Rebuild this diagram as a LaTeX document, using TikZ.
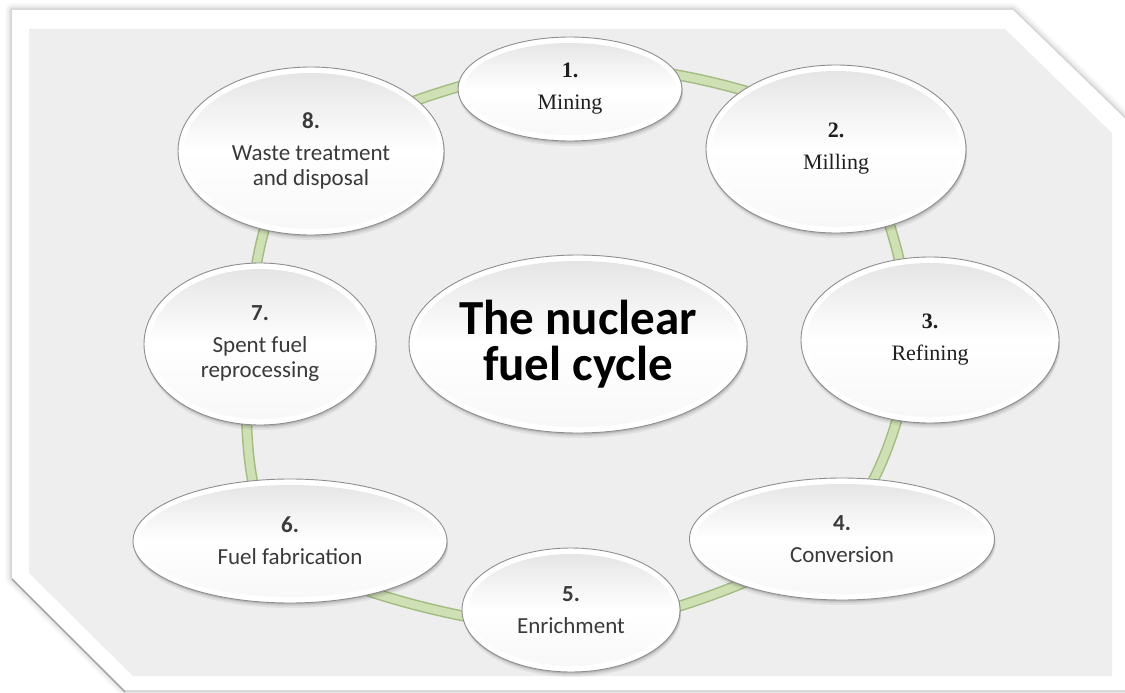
\documentclass[tikz,border=0pt]{standalone}
\usepackage{fontspec}
\setmainfont{Liberation Serif}
\newfontfamily\calib{Carlito}
\usetikzlibrary{shapes.geometric,calc}
\pgfdeclarelayer{background}
\pgfsetlayers{background,main}
\definecolor{panel}{HTML}{EEEEEE}
\definecolor{ringfill}{HTML}{CFE0B4}
\definecolor{ringedge}{HTML}{A3BC82}
\definecolor{rim}{HTML}{8E8E8E}
\definecolor{txt}{HTML}{3A3A3A}
\tikzset{
  stage/.style={ellipse, draw=rim, line width=0.9pt, fill=white, inner sep=0pt, align=center,
    preaction={fill=black, opacity=0.06, transform canvas={shift={(1pt,-5pt)}}},
    preaction={fill=black, opacity=0.08, transform canvas={shift={(1pt,-3pt)}}},
    preaction={fill=black, opacity=0.10, transform canvas={shift={(0.5pt,-1.5pt)}}},
    path picture={\shade[top color=gray!22, bottom color=white!94!gray, middle color=white]
      let \p1=(path picture bounding box.south west), \p2=(path picture bounding box.north east) in
      ($(\p1)!0.5!(\p2)$) ellipse [x radius={0.5*(\x2-\x1)-6pt}, y radius={0.5*(\y2-\y1)-6pt}];}},
  serifstage/.style={stage, font=\fontsize{22}{25}\selectfont, text=black!88},
  sansstage/.style={stage, font=\calib\fontsize{23}{25}\selectfont, text=txt},
  hubstage/.style={stage, font=\calib\bfseries\fontsize{49}{46}\selectfont, text=black},
  ringedgeline/.style={ringedge, line width=11pt},
  ringfillline/.style={ringfill, line width=8pt},
  framehalo/.style={black, line join=round},
}
\begin{document}
\begin{tikzpicture}[x=1pt,y=-1pt]
\useasboundingbox (0,0) rectangle (1125,693);
\begin{pgfonlayer}{background}
  \foreach \w/\o in {14/0.025, 10/0.035, 6/0.05, 3/0.07}
    \draw[framehalo, line width=\w pt, opacity=\o]
      (12,10) -- (1013,10) -- (1140,133) -- (1140,690) -- (125,690) -- (12,578) -- cycle;
  \fill[white] (12,10) -- (1013,10) -- (1140,133) -- (1140,690) -- (125,690) -- (12,578) -- cycle;
  \draw[gray!75, line width=1.2pt] (12,579) -- (125,692);
  \fill[panel] (29,29) -- (1005,29) -- (1112,133) -- (1112,676) -- (133,676) -- (29,573) -- cycle;
\end{pgfonlayer}

\node[serifstage, minimum width=224pt, minimum height=104pt] (n1) at (570,89) {\textbf{1.}\\[7pt]Mining};
\node[serifstage, minimum width=260pt, minimum height=168pt] (n2) at (836,149) {\textbf{2.}\\[7pt]Milling};
\node[serifstage, minimum width=258pt, minimum height=166pt] (n3) at (930,340) {\textbf{3.}\\[7pt]Refining};
\node[sansstage, minimum width=305pt, minimum height=122pt] (n4) at (842,539) {\textbf{4.}\\[7pt]Conversion};
\node[sansstage, minimum width=218pt, minimum height=124pt] (n5) at (571,610) {\textbf{5.}\\[7pt]Enrichment};
\node[sansstage, minimum width=314pt, minimum height=124pt] (n6) at (290,541) {\textbf{6.}\\[7pt]Fuel fabrication};
\node[sansstage, minimum width=232pt, minimum height=162pt] (n7) at (260,344) {\textbf{7.}\\[7pt]Spent fuel\\reprocessing};
\node[sansstage, minimum width=266pt, minimum height=168pt] (n8) at (311,151) {\textbf{8.}\\[7pt]Waste treatment\\and disposal};
\node[hubstage, minimum width=338pt, minimum height=178pt] (hub) at (578,344) {The nuclear\\fuel cycle};

\coordinate (r1) at ($(n1.center)+(0,-24)$);
\coordinate (r2) at ($(n2.center)+(0,-18)$);
\coordinate (r3) at ($(n3.center)+(-20,0)$);
\coordinate (r4) at ($(n4.center)+(-8,-6)$);
\coordinate (r5) at ($(n5.center)+(0,18)$);
\coordinate (r6) at ($(n6.center)+(-5,10)$);
\coordinate (r7) at ($(n7.center)+(-12,0)$);
\coordinate (r8) at ($(n8.center)+(-6,4)$);
\begin{pgfonlayer}{background}
  \draw[ringedgeline] plot[smooth cycle] coordinates {(r1) (r2) (r3) (r4) (r5) (r6) (r7) (r8)};
  \draw[ringfillline] plot[smooth cycle] coordinates {(r1) (r2) (r3) (r4) (r5) (r6) (r7) (r8)};
\end{pgfonlayer}
\end{tikzpicture}
\end{document}
